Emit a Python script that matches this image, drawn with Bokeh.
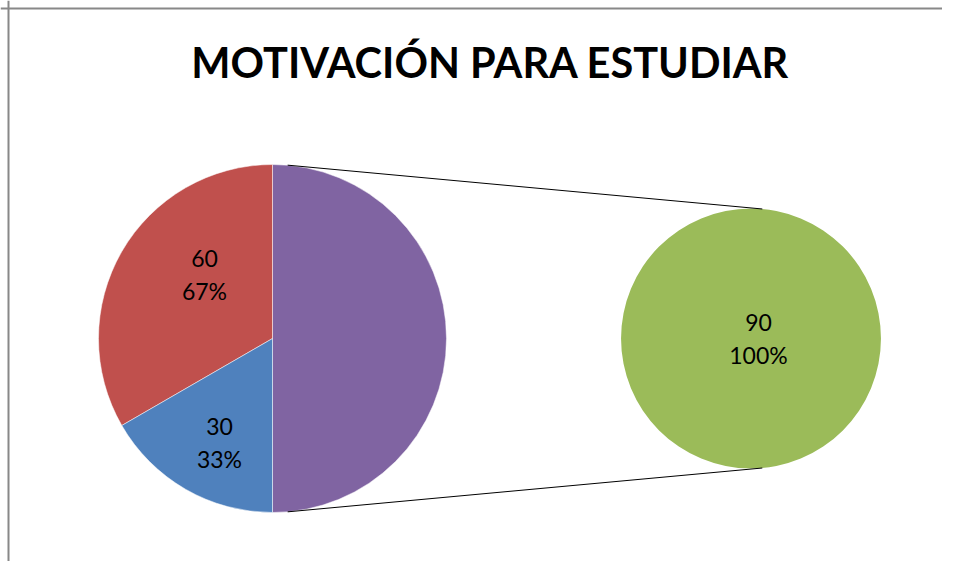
import math
from bokeh.plotting import figure
from bokeh.models import Range1d, Span
from bokeh.core.properties import value
from bokeh.embed import file_html
from bokeh.resources import INLINE

# ---- data ----
title = "MOTIVACIÓN PARA ESTUDIAR"
main_values = [30, 60]            # blue, red
main_pcts = ["33%", "67%"]
other_value = 90                  # "other" segment (purple), expanded into second pie
second_values = [90]
second_pcts = ["100%"]

# ---- style / layout ----
W, H = 942, 561
main_colors = ["#4F81BD", "#C0504D"]
other_color = "#8064A2"
second_colors = ["#9BBB59"]
FONT = "Lato"

def Y(py):  # pixel y -> data y
    return H - py

p = figure(width=W, height=H, output_backend="svg", toolbar_location=None,
           x_range=Range1d(0, W), y_range=Range1d(0, H),
           x_axis_type=None, y_axis_type=None, min_border=0, tools="")
p.grid.visible = False
p.outline_line_color = None
p.background_fill_color = "white"

# border (top & left)
p.add_layout(Span(location=Y(8), dimension="width", line_color="#888888", line_width=2))
p.add_layout(Span(location=8, dimension="height", line_color="#888888", line_width=2))

# title
p.text(x=[490], y=[Y(61)], text=[title], text_font=value(FONT), text_font_style="bold",
       text_font_size="41.5px", text_align="center", text_baseline="middle", text_color="black")

# main pie
cx, cy, r = 272, Y(338), 174
total = sum(main_values) + other_value
other_ang = 2 * math.pi * other_value / total
start = other_ang / 2  # other segment centred on right side
p.wedge(x=cx, y=cy, radius=r, start_angle=-start, end_angle=start,
        fill_color=other_color, line_color="white", line_width=0.5)
order = [1, 0]   # red then blue, counter-clockwise after "other"
a = start
for i in order:
    ang = 2 * math.pi * main_values[i] / total
    p.wedge(x=cx, y=cy, radius=r, start_angle=a, end_angle=a + ang,
            fill_color=main_colors[i], line_color="white", line_width=0.5)
    a += ang

# label placement (layout, pixel centres)
label_pos = {1: (204, 274), 0: (219, 442)}
for i in order:
    lx, ly = label_pos[i]
    p.text(x=[lx, lx], y=[Y(ly - 16), Y(ly + 16)], text=[str(main_values[i]), main_pcts[i]],
           text_font=value(FONT), text_font_size="23px", text_align="center",
           text_baseline="middle", text_color="black")

# second pie
sx, sy, sr = 750.5, Y(338), 130
stot = sum(second_values)
a = math.pi / 2
for v, c in zip(second_values, second_colors):
    ang = 2 * math.pi * v / stot
    p.wedge(x=sx, y=sy, radius=sr, start_angle=a, end_angle=a + ang,
            fill_color=c, line_color=None)
    a += ang
p.text(x=[758, 758], y=[Y(322), Y(354)], text=[str(second_values[0]), second_pcts[0]],
       text_font=value(FONT), text_font_size="23px", text_align="center",
       text_baseline="middle", text_color="black")

# connector lines
th = math.radians(85)
for sgn in (1, -1):
    x0 = cx + r * math.cos(th)
    y0 = cy + sgn * r * math.sin(th)
    x1 = sx + sr * math.cos(th)
    y1 = sy + sgn * sr * math.sin(th)
    p.line([x0, x1], [y0, y1], line_color="black", line_width=1)

open("out.html", "w").write(file_html(p, INLINE))
